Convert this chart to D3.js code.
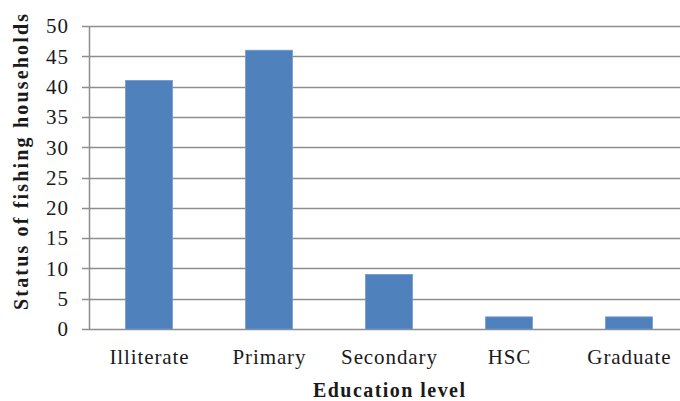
<!DOCTYPE html>
<html>
<head>
<meta charset="utf-8">
<script src="https://cdn.jsdelivr.net/npm/d3@7"></script>
<style>
  html, body { margin: 0; padding: 0; background: #fff; }
  svg { display: block; }
  text { font-family: "Liberation Serif", "DejaVu Serif", serif; fill: #1a1a1a; }
</style>
</head>
<body>
<svg id="chart" width="680" height="401"></svg>
<script>
// Education level of fishing households
const categories = ["Illiterate", "Primary", "Secondary", "HSC", "Graduate"];
const values = [41, 46, 9, 2, 2];
const yTicks = [0, 5, 10, 15, 20, 25, 30, 35, 40, 45, 50];

const svg = d3.select("#chart");
const plotLeft = 89, plotRight = 689, plotTop = 26, plotBottom = 329;
const tracking = 0.9;

const x = d3.scaleBand()
  .domain(categories)
  .range([plotLeft, plotRight])
  .paddingInner(0.61)
  .paddingOuter(0.305);

const y = d3.scaleLinear().domain([0, 50]).range([plotBottom, plotTop]);

// horizontal gridlines with short outside ticks
svg.append("g")
  .selectAll("line")
  .data(yTicks)
  .join("line")
  .attr("x1", plotLeft - 7)
  .attr("x2", 680)
  .attr("y1", d => Math.round(y(d)) + 0.5)
  .attr("y2", d => Math.round(y(d)) + 0.5)
  .attr("stroke", "#8e8e8e")
  .attr("stroke-width", 1.5);

// vertical axis line
svg.append("line")
  .attr("x1", plotLeft + 0.5).attr("x2", plotLeft + 0.5)
  .attr("y1", y(50)).attr("y2", y(0))
  .attr("stroke", "#8e8e8e")
  .attr("stroke-width", 1.5);

// bars
svg.append("g")
  .selectAll("rect")
  .data(values)
  .join("rect")
  .attr("x", (d, i) => x(categories[i]))
  .attr("width", x.bandwidth())
  .attr("y", d => y(d))
  .attr("height", d => y(0) - y(d))
  .attr("fill", "#4f81bd")
  .attr("stroke", "#6f97cc")
  .attr("stroke-width", 0.8);

// y tick labels
svg.append("g")
  .selectAll("text")
  .data(yTicks)
  .join("text")
  .attr("x", 68 + tracking)
  .attr("y", d => y(d))
  .attr("dy", "0.35em")
  .attr("text-anchor", "end")
  .attr("font-size", 21)
  .attr("letter-spacing", tracking)
  .text(d => d);

// x tick labels
svg.append("g")
  .selectAll("text")
  .data(categories)
  .join("text")
  .attr("x", d => x(d) + x.bandwidth() / 2 + tracking / 2)
  .attr("y", 364)
  .attr("text-anchor", "middle")
  .attr("font-size", 21)
  .attr("letter-spacing", tracking)
  .text(d => d);

// axis titles
svg.append("text")
  .attr("x", 389)
  .attr("y", 397)
  .attr("text-anchor", "middle")
  .attr("font-size", 20)
  .attr("font-weight", "bold")
  .attr("textLength", 152)
  .attr("lengthAdjust", "spacing")
  .text("Education level");

svg.append("text")
  .attr("transform", "translate(28,162) rotate(-90)")
  .attr("text-anchor", "middle")
  .attr("font-size", 20)
  .attr("font-weight", "bold")
  .attr("textLength", 296)
  .attr("lengthAdjust", "spacing")
  .text("Status of fishing households");
</script>
</body>
</html>
